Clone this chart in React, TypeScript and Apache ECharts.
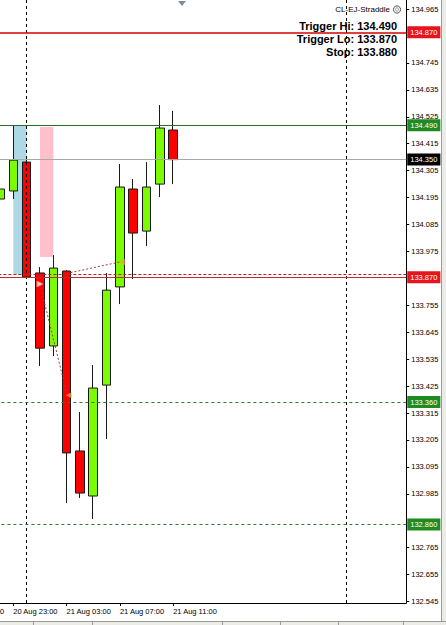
import React, { useEffect, useRef } from 'react';
import * as echarts from 'echarts';

// Hourly category slots (time axis)
const categories = [
  '20 Aug 19:00', '20 Aug 20:00', '20 Aug 21:00', '20 Aug 22:00', '20 Aug 23:00',
  '21 Aug 00:00', '21 Aug 01:00', '21 Aug 02:00', '21 Aug 03:00', '21 Aug 04:00',
  '21 Aug 05:00', '21 Aug 06:00', '21 Aug 07:00', '21 Aug 08:00', '21 Aug 09:00',
  '21 Aug 10:00', '21 Aug 11:00', '21 Aug 12:00', '21 Aug 13:00', '21 Aug 14:00',
  '21 Aug 15:00', '21 Aug 16:00', '21 Aug 17:00', '21 Aug 18:00', '21 Aug 19:00',
  '21 Aug 20:00', '21 Aug 21:00', '21 Aug 22:00', '21 Aug 23:00', '22 Aug 00:00',
  '22 Aug 01:00', '22 Aug 02:00', '22 Aug 03:00', '22 Aug 04:00',
];

// Candles
const candleTimes = [
  '20 Aug 22:00', '20 Aug 23:00', '21 Aug 00:00', '21 Aug 01:00', '21 Aug 02:00',
  '21 Aug 03:00', '21 Aug 04:00', '21 Aug 05:00', '21 Aug 06:00', '21 Aug 07:00',
  '21 Aug 08:00', '21 Aug 09:00', '21 Aug 10:00', '21 Aug 11:00',
];
const opens = [134.189, 134.222, 134.340, 133.887, 133.589, 133.895, 133.160, 132.976, 133.429, 133.830, 134.230, 134.058, 134.250, 134.471];
const closes = [134.230, 134.348, 133.870, 133.580, 133.907, 133.152, 132.988, 133.417, 133.817, 134.238, 134.050, 134.238, 134.479, 134.350];
const lows = [134.170, 134.189, 133.866, 133.507, 133.548, 132.947, 132.968, 132.882, 133.209, 133.760, 133.862, 133.997, 134.197, 134.250];
const highs = [134.250, 134.491, 134.350, 133.911, 133.960, 133.898, 133.319, 133.511, 133.887, 134.332, 134.271, 134.340, 134.573, 134.549];

// Price-axis tick labels (those hidden under the level markers are omitted)
const yTickValues = [
  132.545, 132.655, 132.765, 132.985, 133.095, 133.205, 133.315, 133.425,
  133.535, 133.645, 133.755, 133.975, 134.085, 134.195, 134.305, 134.415,
  134.525, 134.635, 134.745, 134.965,
];
const yMin = 132.539;
const yMax = 135.002;

// Levels
const upperLevel = 134.870;
const triggerHi = 134.490;
const bidPrice = 134.350;
const stopLevel = 133.880;
const triggerLo = 133.870;
const target1 = 133.360;
const target2 = 132.860;

const daySeparators = ['21 Aug 00:00', '22 Aug 00:00'];

// Highlighted zones [fromTime, toTime, high, low]
const blueZone = ['20 Aug 23:00', '21 Aug 00:00', 134.490, 133.880];
const pinkZone = ['21 Aug 01:00', '21 Aug 02:00', 134.483, 133.952];

// Trade history lines
const tradeLine1 = [['21 Aug 01:00', 133.842], ['21 Aug 03:00', 133.397]];
const tradeLine2 = [['21 Aug 03:00', 133.885], ['21 Aug 07:00', 133.932]];
const closeArrows = [['21 Aug 03:00', 133.388], ['21 Aug 07:00', 133.932]];
const openArrows = [['21 Aug 01:00', 133.842]];

const infoLines = ['Trigger Hi: 134.490', 'Trigger Lo: 133.870', 'Stop: 133.880'];
const eaName = 'CL-EJ-Straddle';

const FONT = '"Liberation Sans", Arial, sans-serif';

export default function App() {
  const ref = useRef<HTMLDivElement>(null);

  useEffect(() => {
    document.body.style.margin = '0';
    if (!ref.current) return;
    const chart = echarts.init(ref.current, undefined, { renderer: 'svg' });

    const candleData = categories.map((c) => {
      const i = candleTimes.indexOf(c);
      return i < 0 ? ['-', '-', '-', '-'] : [opens[i], closes[i], lows[i], highs[i]];
    });
    const lastLabelIndex = categories.indexOf(candleTimes[candleTimes.length - 1]);
    const showIdx = (index: number) => index % 4 === 0 && index <= lastLabelIndex;

    const N = categories.length;
    const bandW = 13.32;
    const gridLeft = -3.5 * bandW;
    const gridWidth = N * bandW;

    const markerLabel = (bg: string, text: string) => ({
      show: true,
      position: 'end',
      distance: 1,
      formatter: text,
      backgroundColor: bg,
      color: '#fff',
      fontSize: 7.5,
      lineHeight: 9,
      fontFamily: FONT,
      padding: [2, 3, 1, 3],
    });

    const option: any = {
      animation: false,
      backgroundColor: '#fff',
      grid: {
        left: gridLeft,
        top: 0,
        width: gridWidth,
        height: 603,
        outerBoundsMode: 'none',
        containLabel: false,
      },
      xAxis: {
        type: 'category',
        data: categories,
        boundaryGap: true,
        axisLine: { show: true, lineStyle: { color: '#000', width: 1 } },
        axisTick: {
          show: true,
          alignWithLabel: true,
          interval: (index: number) => showIdx(index),
          length: 3,
          lineStyle: { color: '#000' },
        },
        axisLabel: {
          interval: (index: number) => showIdx(index),
          align: 'left',
          margin: 4,
          fontSize: 7.5,
          color: '#000',
          fontFamily: FONT,
        },
        splitLine: { show: false },
      },
      yAxis: {
        type: 'value',
        position: 'right',
        min: yMin,
        max: yMax,
        axisLine: { show: true, lineStyle: { color: '#000', width: 1 } },
        axisTick: {
          show: true,
          length: 3,
          customValues: yTickValues,
          lineStyle: { color: '#000' },
        },
        axisLabel: {
          customValues: yTickValues,
          formatter: (v: number) => v.toFixed(3),
          margin: 5,
          fontSize: 7.5,
          color: '#000',
          fontFamily: FONT,
        },
        splitLine: { show: false },
      },
      series: [
        {
          type: 'candlestick',
          data: candleData,
          barWidth: 9,
          z: 3,
          itemStyle: {
            color: '#7cfc00',
            color0: '#ff0000',
            borderColor: '#1a1a1a',
            borderColor0: '#1a1a1a',
            borderWidth: 1,
          },
          markArea: {
            silent: true,
            z: 1,
            data: [
              [
                { xAxis: blueZone[0], yAxis: blueZone[2], itemStyle: { color: '#add8e6' } },
                { xAxis: blueZone[1], yAxis: blueZone[3] },
              ],
              [
                { xAxis: pinkZone[0], yAxis: pinkZone[2], itemStyle: { color: '#ffc0cb' } },
                { xAxis: pinkZone[1], yAxis: pinkZone[3] },
              ],
            ],
          },
          markLine: {
            silent: true,
            symbol: ['none', 'none'],
            z: 5,
            data: [
              {
                xAxis: daySeparators[0],
                lineStyle: { color: '#000', width: 1, type: [3, 3] },
                label: { show: false },
              },
              {
                xAxis: daySeparators[1],
                lineStyle: { color: '#000', width: 1, type: [3, 3] },
                label: { show: false },
              },
              {
                yAxis: upperLevel,
                lineStyle: { color: '#d40000', width: 1.5, type: 'solid' },
                label: markerLabel('#e8141c', upperLevel.toFixed(3)),
              },
              {
                yAxis: triggerHi,
                lineStyle: { color: '#2d6a2d', width: 1, type: 'solid' },
                label: markerLabel('#1f8a1f', triggerHi.toFixed(3)),
              },
              {
                yAxis: bidPrice,
                lineStyle: { color: '#a8a8a8', width: 1, type: 'solid' },
                label: markerLabel('#000', bidPrice.toFixed(3)),
              },
              {
                yAxis: stopLevel,
                lineStyle: { color: '#c02020', width: 1, type: [3, 2] },
                label: { show: false },
              },
              {
                yAxis: triggerLo,
                lineStyle: { color: '#b83030', width: 1, type: 'solid' },
                label: markerLabel('#e8141c', triggerLo.toFixed(3)),
              },
              {
                yAxis: target1,
                lineStyle: { color: '#2e7d2e', width: 1, type: [3, 3] },
                label: markerLabel('#1f8a1f', target1.toFixed(3)),
              },
              {
                yAxis: target2,
                lineStyle: { color: '#2e7d2e', width: 1, type: [3, 3] },
                label: markerLabel('#1f8a1f', target2.toFixed(3)),
              },
            ],
          },
        },
        {
          type: 'line',
          data: tradeLine1,
          z: 4,
          symbol: 'none',
          lineStyle: { color: '#a83a3a', width: 1, type: [2, 2] },
        },
        {
          type: 'line',
          data: tradeLine2,
          z: 4,
          symbol: 'none',
          lineStyle: { color: '#a83a3a', width: 1, type: [2, 2] },
        },
        {
          type: 'scatter',
          data: closeArrows,
          z: 6,
          symbol: 'triangle',
          symbolRotate: 90,
          symbolSize: [6, 6],
          symbolOffset: [2, 0],
          itemStyle: { color: '#f0a040' },
        },
        {
          type: 'scatter',
          data: openArrows,
          z: 6,
          symbol: 'triangle',
          symbolRotate: -90,
          symbolSize: [6, 6],
          itemStyle: { color: '#fff', borderColor: '#f08080', borderWidth: 1 },
        },
      ],
      graphic: [
        // right window border
        { type: 'rect', z: 50, shape: { x: 441, y: 0, width: 5, height: 625 }, style: { fill: '#ecebe6' } },
        { type: 'line', z: 51, shape: { x1: 441.5, y1: 0, x2: 441.5, y2: 621 }, style: { stroke: '#9a9a9a', lineWidth: 1 } },
        // bottom status bar
        { type: 'rect', z: 50, shape: { x: 0, y: 621, width: 446, height: 4 }, style: { fill: '#ecebe6' } },
        { type: 'line', z: 51, shape: { x1: 0, y1: 621.5, x2: 446, y2: 621.5 }, style: { stroke: '#9a9a9a', lineWidth: 1 } },
        ...[33, 92, 222, 280, 338, 403].map((sx) => ({
          type: 'line', z: 51, shape: { x1: sx + 0.5, y1: 622, x2: sx + 0.5, y2: 625 }, style: { stroke: '#9a9a9a', lineWidth: 1 },
        })),
        // chart shift marker
        { type: 'polygon', z: 52, shape: { points: [[178, 1], [186, 1], [182, 6]] }, style: { fill: '#7d8c9a' } },
        // EA name + icon
        {
          type: 'text', z: 60, x: 390, y: 9.5,
          style: { text: eaName, align: 'right', verticalAlign: 'middle', font: '8px ' + FONT, fill: '#000' },
        },
        { type: 'circle', z: 60, shape: { cx: 397, cy: 9.5, r: 3.6 }, style: { fill: '#fff', stroke: '#555', lineWidth: 1 } },
        { type: 'circle', z: 61, shape: { cx: 397, cy: 9.5, r: 1.6 }, style: { fill: 'none', stroke: '#777', lineWidth: 0.8 } },
        // info text
        ...infoLines.map((t, i) => ({
          type: 'text', z: 60, x: 397, y: 26 + i * 13,
          style: { text: t, align: 'right', verticalAlign: 'middle', font: 'bold 11px ' + FONT, fill: '#000' },
        })),
      ],
    };

    chart.setOption(option);
    return () => chart.dispose();
  }, []);

  return <div ref={ref} style={{ width: 446, height: 625 }} />;
}
